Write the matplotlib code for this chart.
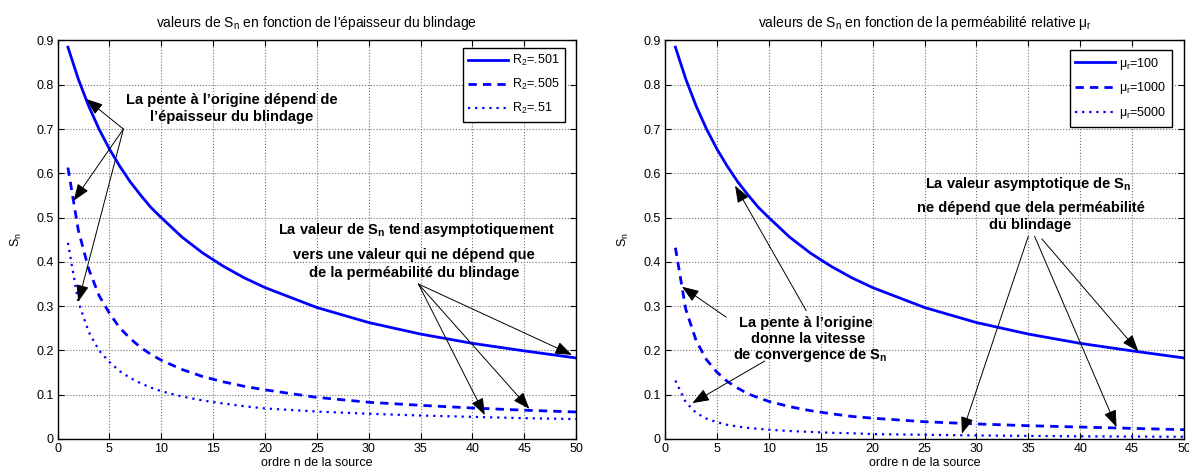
import matplotlib
matplotlib.use('Agg')
import matplotlib.pyplot as plt

plt.rcParams['font.family'] = ['Liberation Sans', 'DejaVu Sans']
plt.rcParams['mathtext.fontset'] = 'custom'
plt.rcParams['mathtext.rm'] = 'Liberation Sans'
plt.rcParams['mathtext.bf'] = 'Liberation Sans:bold'

# ordre n de la source
n = [1, 2, 3, 4, 5, 6, 7, 8, 9, 10, 12, 14, 16, 18, 20, 25, 30, 35, 40, 45, 50]

# valeurs
s_r501 = [0.885, 0.813, 0.752, 0.700, 0.655, 0.616, 0.581, 0.551, 0.523, 0.500,
          0.456, 0.420, 0.390, 0.364, 0.342, 0.297, 0.263, 0.237, 0.216, 0.199, 0.183]
s_r505 = [0.613, 0.472, 0.384, 0.324, 0.284, 0.251, 0.227, 0.207, 0.191, 0.178,
          0.157, 0.141, 0.129, 0.119, 0.111, 0.094, 0.083, 0.076, 0.070, 0.065, 0.061]
s_r51 = [0.443, 0.310, 0.242, 0.200, 0.174, 0.153, 0.138, 0.126, 0.116, 0.108,
         0.096, 0.087, 0.080, 0.074, 0.069, 0.062, 0.057, 0.053, 0.050, 0.047, 0.045]

s_mu100 = s_r501
s_mu1000 = [0.432, 0.293, 0.222, 0.179, 0.151, 0.130, 0.115, 0.102, 0.093, 0.085,
            0.073, 0.064, 0.057, 0.051, 0.047, 0.039, 0.034, 0.030, 0.027, 0.024, 0.021]
s_mu5000 = [0.132, 0.083, 0.059, 0.046, 0.038, 0.032, 0.028, 0.025, 0.023, 0.021,
            0.018, 0.016, 0.014, 0.013, 0.011, 0.0095, 0.008, 0.007, 0.006, 0.0055, 0.005]

labels_left = ['R$_\\mathregular{2}$=.501', 'R$_\\mathregular{2}$=.505', 'R$_\\mathregular{2}$=.51']
labels_right = ['\u03bc$_\\mathregular{r}$=100', '\u03bc$_\\mathregular{r}$=1000', '\u03bc$_\\mathregular{r}$=5000']

xticks = [0, 5, 10, 15, 20, 25, 30, 35, 40, 45, 50]
yticks = [0, 0.1, 0.2, 0.3, 0.4, 0.5, 0.6, 0.7, 0.8, 0.9]
ytick_labels = ['0', '0.1', '0.2', '0.3', '0.4', '0.5', '0.6', '0.7', '0.8', '0.9']

BLUE = (0, 0, 1)
FS = 9
TXT = 10.5
arrow = dict(arrowstyle='-|>,head_length=0.8,head_width=0.3', color='k', lw=0.7,
             mutation_scale=13, shrinkA=0, shrinkB=0)

fig = plt.figure(figsize=(11.89, 4.73), dpi=100)
ax1 = fig.add_axes([0.0484, 0.0719, 0.4361, 0.8425])
ax2 = fig.add_axes([0.5593, 0.0719, 0.4365, 0.8425])


def style(ax, series, labels, title, anchor):
    ax.plot(n, series[0], '-', color=BLUE, lw=2, label=labels[0])
    ax.plot(n, series[1], color=BLUE, lw=2, dashes=(3, 2.2), label=labels[1])
    ax.plot(n, series[2], color=BLUE, lw=1.6, dashes=(1, 2.2), label=labels[2])
    ax.set_xlim(0, 50)
    ax.set_ylim(0, 0.9)
    ax.set_xticks(xticks)
    ax.set_yticks(yticks)
    ax.set_yticklabels(ytick_labels)
    ax.tick_params(direction='in', top=True, right=True, length=4, width=0.8,
                   labelsize=FS, pad=3)
    ax.grid(True, linestyle=':', color='0.45', lw=0.8)
    for sp in ax.spines.values():
        sp.set_linewidth(1.0)
    ax.set_title(title, fontsize=10, pad=10)
    ax.set_xlabel('ordre n de la source', fontsize=FS, labelpad=1)
    ax.set_ylabel('S$_\\mathregular{n}$', fontsize=FS, labelpad=9)
    leg = ax.legend(loc='upper right', bbox_to_anchor=anchor, borderaxespad=0,
                    fontsize=FS, handlelength=3.2, labelspacing=0.7,
                    fancybox=False, framealpha=1, edgecolor='k',
                    borderpad=0.45, handletextpad=0.3)
    leg.get_frame().set_linewidth(1.0)


style(ax1, [s_r501, s_r505, s_r51], labels_left,
      "valeurs de S$_\\mathregular{n}$ en fonction de l'épaisseur du blindage",
      (0.979, 0.982))
style(ax2, [s_mu100, s_mu1000, s_mu5000], labels_right,
      'valeurs de S$_\\mathregular{n}$ en fonction de la perméabilité relative \u03bc$_\\mathregular{r}$',
      (0.977, 0.976))

# annotations, graphe de gauche
ax1.text(16.8, 0.765, 'La pente à l\u2019origine dépend de', ha='center', va='center',
         fontsize=TXT, fontweight='bold')
ax1.text(16.8, 0.727, 'l\u2019épaisseur du blindage', ha='center', va='center',
         fontsize=TXT, fontweight='bold')
for tip in [(2.75, 0.768), (1.55, 0.538), (2.0, 0.31)]:
    ax1.annotate('', xy=tip, xytext=(6.35, 0.70), arrowprops=arrow)

ax1.text(34.6, 0.471, 'La valeur de S$_\\mathregular{n}$ tend asymptotiquement', ha='center',
         va='center', fontsize=TXT, fontweight='bold')
ax1.text(34.4, 0.416, 'vers une valeur qui ne dépend que', ha='center', va='center',
         fontsize=TXT, fontweight='bold')
ax1.text(34.4, 0.374, 'de la perméabilité du blindage', ha='center', va='center',
         fontsize=TXT, fontweight='bold')
for tip in [(49.6, 0.19), (45.5, 0.068), (41.2, 0.054)]:
    ax1.annotate('', xy=tip, xytext=(34.8, 0.35), arrowprops=arrow)

# annotations, graphe de droite
ax2.text(35.0, 0.576, 'La valeur asymptotique de S$_\\mathregular{n}$', ha='center', va='center',
         fontsize=TXT, fontweight='bold')
ax2.text(35.3, 0.521, 'ne dépend que dela perméabilité', ha='center', va='center',
         fontsize=TXT, fontweight='bold')
ax2.text(35.2, 0.484, 'du blindage', ha='center', va='center',
         fontsize=TXT, fontweight='bold')
ax2.annotate('', xy=(45.6, 0.198), xytext=(36.3, 0.452), arrowprops=arrow)
ax2.annotate('', xy=(43.5, 0.027), xytext=(35.6, 0.458), arrowprops=arrow)
ax2.annotate('', xy=(28.6, 0.012), xytext=(35.0, 0.458), arrowprops=arrow)

ax2.text(13.6, 0.263, 'La pente à l\u2019origine', ha='center', va='center',
         fontsize=TXT, fontweight='bold')
ax2.text(13.8, 0.226, 'donne la vitesse', ha='center', va='center',
         fontsize=TXT, fontweight='bold')
ax2.text(14.0, 0.190, 'de convergence de S$_\\mathregular{n}$', ha='center', va='center',
         fontsize=TXT, fontweight='bold')
ax2.annotate('', xy=(1.64, 0.344), xytext=(5.9, 0.275), arrowprops=arrow)
ax2.annotate('', xy=(2.63, 0.081), xytext=(9.6, 0.176), arrowprops=arrow)
ax2.annotate('', xy=(6.75, 0.572), xytext=(13.6, 0.29), arrowprops=arrow)

fig.savefig('out.png', dpi=100)
